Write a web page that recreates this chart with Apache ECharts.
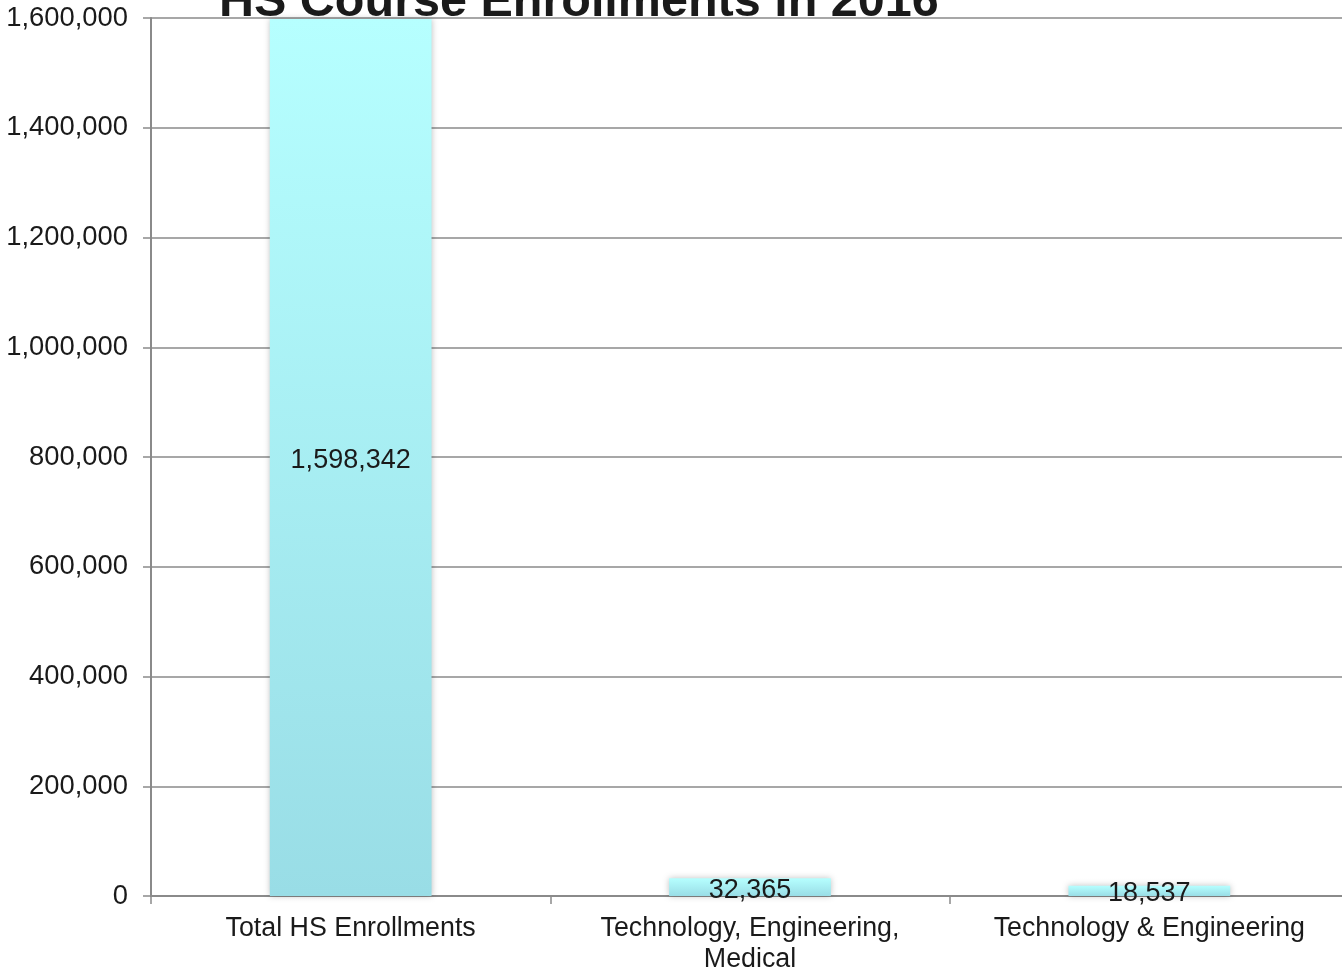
<!DOCTYPE html>
<html>
<head>
<meta charset="utf-8">
<script src="https://cdn.jsdelivr.net/npm/echarts@6/dist/echarts.min.js"></script>
<style>
html,body{margin:0;padding:0;background:#fff;}
#chart{width:1342px;height:970px;}
</style>
</head>
<body>
<div id="chart"></div>
<script>
const titleText = 'HS Course Enrollments in 2016';
const categories = ['Total HS Enrollments', 'Technology, Engineering,\nMedical', 'Technology & Engineering'];
const enrollments = [1598342, 32365, 18537];
const yMin = 0, yMax = 1600000, yInterval = 200000;

const chart = echarts.init(document.getElementById('chart'));
const fmt = v => v.toLocaleString('en-US');
const FONT = 'Liberation Sans, Arial, sans-serif';
chart.setOption({
  animation: false,
  backgroundColor: '#ffffff',
  title: {
    text: titleText,
    left: 214,
    top: -27,
    textStyle: { fontFamily: FONT, fontSize: 48.5, fontWeight: 'bold', color: '#1a1a1a' }
  },
  grid: { left: 151, right: -7, top: 18, bottom: 74, containLabel: false, outerBoundsMode: 'none' },
  xAxis: {
    type: 'category',
    data: categories,
    axisLine: { lineStyle: { color: '#8a8a8a', width: 2 } },
    axisTick: { show: true, length: 8, alignWithLabel: false, lineStyle: { color: '#8a8a8a', width: 1.5 } },
    axisLabel: { fontFamily: FONT, fontSize: 26.8, color: '#1a1a1a', margin: 17, lineHeight: 31, interval: 0 }
  },
  yAxis: {
    type: 'value',
    min: yMin, max: yMax, interval: yInterval,
    axisLine: { show: true, lineStyle: { color: '#8a8a8a', width: 2 } },
    axisTick: { show: true, length: 8, lineStyle: { color: '#8a8a8a', width: 1.5 } },
    splitLine: { lineStyle: { color: '#8a8a8a', width: 1.5 } },
    axisLabel: { fontFamily: FONT, fontSize: 27.4, color: '#1a1a1a', margin: 23, padding: [3, 0, 0, 0], formatter: v => fmt(v) }
  },
  series: [{
    type: 'bar',
    data: enrollments,
    barWidth: '40.5%',
    itemStyle: {
      color: new echarts.graphic.LinearGradient(0, 0, 0, 1, [
        { offset: 0, color: '#b6ffff' },
        { offset: 1, color: '#99dde6' }
      ]),
      shadowBlur: 6,
      shadowColor: 'rgba(0,0,0,0.25)'
    },
    label: {
      show: true,
      position: 'inside',
      offset: [0, 3],
      fontFamily: FONT,
      fontSize: 27,
      color: '#1a1a1a',
      formatter: p => fmt(p.value)
    }
  }]
});
</script>
</body>
</html>
